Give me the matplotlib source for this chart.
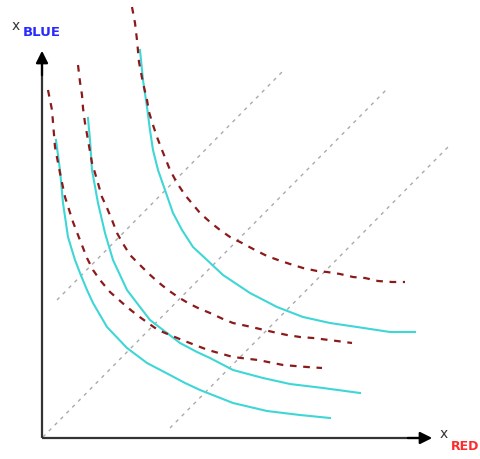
import matplotlib
matplotlib.use('Agg')
import matplotlib.pyplot as plt

# indifference curves (u = red amount, v = blue amount)
cyan1_u = [14, 18, 21, 26, 33, 38, 45, 51, 65, 85, 105, 128, 143, 158, 191, 225, 258, 288]
cyan1_v = [298, 268, 235, 201, 178, 165, 148, 135, 111, 90, 75, 63, 55, 48, 35, 27, 23, 20]
cyan2_u = [46, 48, 50, 56, 63, 71, 85, 98, 108, 125, 138, 155, 168, 191, 221, 248, 281, 318]
cyan2_v = [320, 298, 268, 235, 205, 178, 148, 131, 118, 105, 95, 86, 80, 68, 60, 54, 50, 45]
cyan3_u = [98, 101, 105, 108, 111, 116, 123, 131, 140, 151, 165, 181, 208, 235, 261, 288, 315, 348, 373]
cyan3_v = [388, 358, 331, 308, 288, 268, 248, 225, 208, 191, 178, 163, 145, 131, 121, 115, 111, 106, 106]

red1_u = [6, 10, 13, 18, 23, 31, 36, 45, 51, 58, 68, 85, 95, 106, 116, 128, 140, 153, 166, 191, 216, 241, 265, 280]
red1_v = [348, 328, 291, 265, 241, 216, 203, 180, 168, 158, 146, 131, 123, 115, 108, 103, 98, 93, 88, 81, 78, 73, 71, 70]
red2_u = [36, 38, 40, 41, 43, 46, 50, 53, 60, 65, 70, 75, 80, 88, 96, 106, 116, 126, 136, 146, 156, 168, 181, 191, 205, 218, 231, 245, 258, 271, 295, 310]
red2_v = [373, 356, 343, 330, 315, 298, 275, 265, 241, 230, 218, 205, 196, 183, 175, 165, 156, 148, 141, 135, 130, 125, 119, 115, 112, 109, 106, 103, 101, 100, 97, 95]
red3_u = [90, 93, 95, 97, 101, 105, 107, 111, 115, 120, 128, 135, 143, 158, 168, 178, 188, 200, 213, 225, 236, 248, 261, 275, 285, 298, 311, 323, 336, 350, 363]
red3_v = [431, 415, 398, 376, 355, 338, 326, 313, 301, 288, 268, 255, 243, 225, 216, 208, 201, 195, 188, 182, 178, 174, 170, 167, 166, 164, 161, 160, 157, 156, 156]

# gray diagonal rays (start, end)
gray_u = [[15, 240], [1, 346], [128, 406]]
gray_v = [[138, 366], [1, 350], [10, 291]]

fig = plt.figure(figsize=(4.81, 4.59), dpi=100)
ax = fig.add_axes([0, 0, 1, 1])
ax.set_xlim(-42, 439)
ax.set_ylim(-21, 438)
ax.axis('off')

for gu, gv in zip(gray_u, gray_v):
    ax.plot(gu, gv, color='#aaaaaa', lw=1.0, linestyle=(0, (2.5, 3.5)))

for cu, cv in [(cyan1_u, cyan1_v), (cyan2_u, cyan2_v), (cyan3_u, cyan3_v)]:
    ax.plot(cu, cv, color='#3fd6d6', lw=1.5)

for ru, rv in [(red1_u, red1_v), (red2_u, red2_v), (red3_u, red3_v)]:
    ax.plot(ru, rv, color='#8b1a1a', lw=1.6, linestyle=(0, (3, 3)))

# axes with arrows
ax.plot([0, 0], [0, 380], color='#333333', lw=1.6, solid_capstyle='butt')
ax.plot([0, 383], [0, 0], color='#333333', lw=1.6, solid_capstyle='butt')
ax.annotate('', xy=(0, 390), xytext=(0, 360),
            arrowprops=dict(arrowstyle='-|>', color='black', lw=1.6, mutation_scale=18))
ax.annotate('', xy=(393, 0), xytext=(363, 0),
            arrowprops=dict(arrowstyle='-|>', color='black', lw=1.6, mutation_scale=18))

ax.text(-26, 412, 'x', fontsize=10, color='#333333', ha='center', va='center')
ax.text(-19, 405, 'BLUE', fontsize=9.5, fontweight='bold', color='#2a2aff', ha='left', va='center')
ax.text(402, 4, 'x', fontsize=10, color='#333333', ha='center', va='center')
ax.text(409, -8, 'RED', fontsize=9, fontweight='bold', color='#ff2a2a', ha='left', va='center')

fig.savefig('out.png', dpi=100)
